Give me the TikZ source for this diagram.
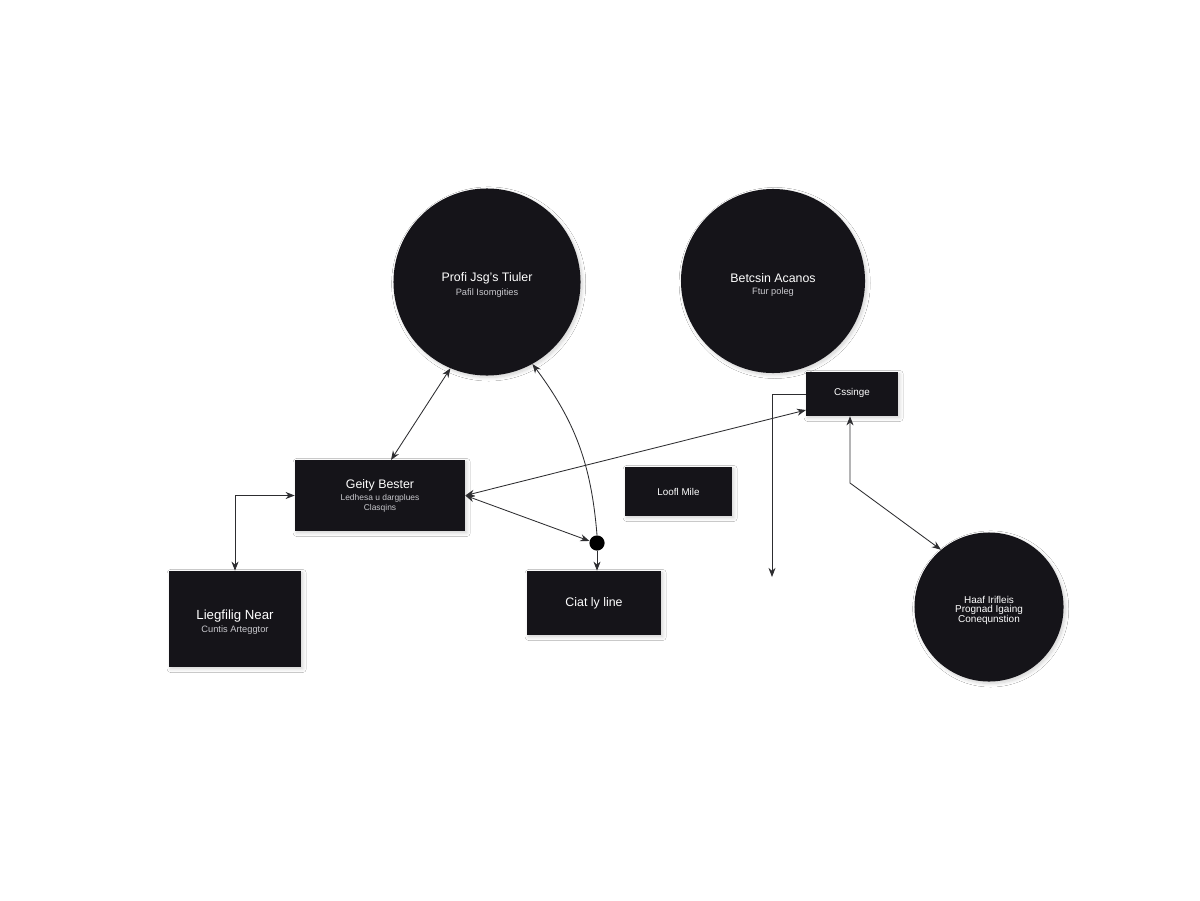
\documentclass[tikz,border=0pt]{standalone}
\usepackage{fontspec}
\setmainfont{Liberation Sans}
\usetikzlibrary{arrows.meta,calc,shadows.blur}
\definecolor{dark}{RGB}{21,20,25}
\definecolor{linec}{RGB}{45,45,48}
\definecolor{subtxt}{RGB}{200,200,205}
\tikzset{
  shade/.style={blur shadow={shadow blur steps=8,shadow xshift=1.2pt,shadow yshift=-1.4pt,shadow opacity=18,shadow blur radius=2.5pt}},
  bigcircle/.style={circle,fill=dark,draw=none,inner sep=0pt,shade},
  darkbox/.style={rectangle,fill=dark,draw=none,inner sep=0pt,shade},
  dotnode/.style={circle,fill=black,inner sep=0pt,minimum size=0.38cm},
  ttl/.style={text=white,inner sep=0pt,font=\fontsize{8.8}{10}\selectfont},
  ttlsm/.style={text=white,inner sep=0pt,font=\fontsize{7}{8}\selectfont},
  sbt/.style={text=subtxt,inner sep=0pt,font=\fontsize{6.6}{7.5}\selectfont},
  conn/.style={draw=linec,line width=0.6pt},
  onearrow/.style={conn,-{Stealth[length=6.5pt,width=5pt]}},
  biarrow/.style={conn,{Stealth[length=6.5pt,width=5pt]}-{Stealth[length=6.5pt,width=5pt]}}
}
\begin{document}
\begin{tikzpicture}[x=0.025cm,y=-0.025cm]
\useasboundingbox[fill=white] (0,0) rectangle (1200,900);

% circles
\node[bigcircle,minimum size=4.675cm] (c1) at (487,282) {};
\node[ttl] (c1t) at (487,278) {Profi Jsg's Tiuler};
\node[sbt] (c1s) at (487,293) {Pafil Isomgities};

\node[bigcircle,minimum size=4.6cm] (c2) at (773,281) {};
\node[ttl] (c2t) at (773,278) {Betcsin Acanos};
\node[sbt] (c2s) at (773,292) {Ftur poleg};

\node[bigcircle,minimum size=3.725cm] (c3) at (989,607) {};
\node[sbt,text=white,font=\fontsize{7.1}{8}\selectfont] (c3a) at (989,600) {Haaf Irifleis};
\node[sbt,text=white,font=\fontsize{7.1}{8}\selectfont] (c3b) at (989,610) {Prognad Igaing};
\node[sbt,text=white,font=\fontsize{7.1}{8}\selectfont] (c3c) at (989,620) {Conequnstion};

% boxes
\node[darkbox,minimum width=2.3cm,minimum height=1.1cm] (cs) at (852,394) {};
\node[ttlsm] (cst) at (852,393) {Cssinge};

\node[darkbox,minimum width=4.25cm,minimum height=1.775cm] (gb) at (380,495.5) {};
\node[ttl] (gbt) at (380,485) {Geity Bester};
\node[sbt,font=\fontsize{6}{7}\selectfont] (gbs) at (380,498) {Ledhesa u dargplues};
\node[sbt,font=\fontsize{6}{7}\selectfont] (gbu) at (380,508) {Clasqins};

\node[darkbox,minimum width=2.675cm,minimum height=1.225cm] (lm) at (678.5,491.5) {};
\node[ttlsm] (lmt) at (678.5,492) {Loofl Mile};

\node[darkbox,minimum width=3.3cm,minimum height=2.4cm] (ln) at (235,619) {};
\node[ttl,font=\fontsize{9.4}{10}\selectfont] (lnt) at (235,616) {Liegfilig Near};
\node[sbt] (lns) at (235,630) {Cuntis Arteggtor};

\node[darkbox,minimum width=3.35cm,minimum height=1.6cm] (cl) at (594,603) {};
\node[ttl] (clt) at (594,603) {Ciat ly line};

% junction dot
\node[dotnode] (dot) at (597,543) {};

% coordinates
\coordinate (gbtop) at (391,460);
\coordinate (csbend) at (850,483);
\coordinate (freeend) at (772,577);
\coordinate (csin) at (806,410);

% connectors
\draw[biarrow] (c1.247) -- (gbtop);
\draw[onearrow] (dot.north) to[bend right=16] (c1.299);
\draw[biarrow] (gb.east) -- (dot.165);
\draw[biarrow] (gb.east) -- (csin);
\draw[onearrow] (dot.south) -- (dot.south |- cl.north);
\draw[onearrow] (cs.west) -| (freeend);
\draw[biarrow] (cs.south -| csbend) -- (csbend) -- (c3.130);
\draw[biarrow] (gb.west) -| (ln.north);
\end{tikzpicture}
\end{document}
